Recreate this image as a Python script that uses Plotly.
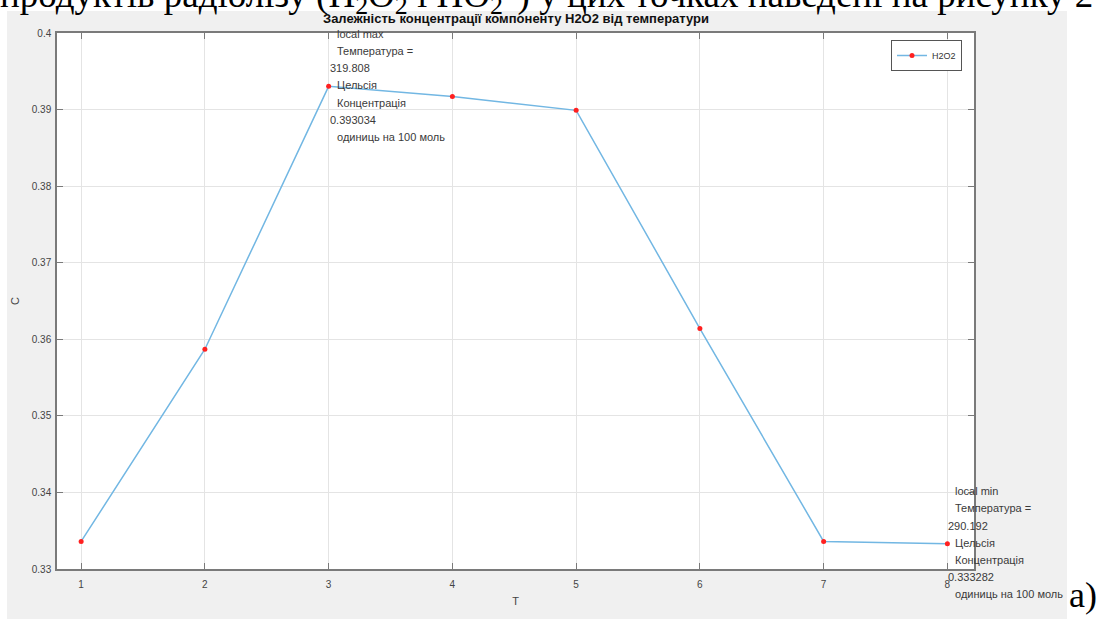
import plotly.graph_objects as go

# ---- data ----
T = [1, 2, 3, 4, 5, 6, 7, 8]
C = [0.3336, 0.3587, 0.393034, 0.3917, 0.3899, 0.3614, 0.3336, 0.333282]
x_ticks = [1, 2, 3, 4, 5, 6, 7, 8]
y_ticks = [0.33, 0.34, 0.35, 0.36, 0.37, 0.38, 0.39, 0.4]
y_ticklabels = ["0.33", "0.34", "0.35", "0.36", "0.37", "0.38", "0.39", "0.4"]
series_name = "H2O2"
title = "Залежність концентрації компоненту H2O2 від температури"
max_lines = [" local max", " Температура =", "319.808", " Цельсія", " Концентрація",
             "0.393034", " одиниць на 100 моль"]
min_lines = [" local min", " Температура =", "290.192", " Цельсія", " Концентрація",
             "0.333282", " одиниць на 100 моль"]
max_idx = 2
min_idx = 7
top_text = ("продуктів радіолізу (H<sub>2</sub>O<sub>2</sub> і HO<sub>2</sub>"
            "<sup>−</sup>) у цих точках наведені на рисунку 2")
side_label = "а)"

# ---- layout geometry ----
W, H = 1097, 619
ML, MR, MT, MB = 57, 123, 33, 50
PW, PH = W - ML - MR, H - MT - MB


def px_x(px):
    return (px - ML) / PW


def px_y(py):
    return (H - MB - py) / PH


fig = go.Figure()
fig.add_trace(go.Scatter(
    x=T, y=C, mode="lines+markers", name=series_name,
    line=dict(color="#72b7e3", width=1.5),
    marker=dict(color="#ff2020", size=5, symbol="circle"),
))

shapes = [
    dict(type="rect", xref="paper", yref="paper", layer="below",
         x0=px_x(7), x1=px_x(1067), y0=px_y(619), y1=px_y(11),
         fillcolor="#f0f0f0", line=dict(width=0)),
    dict(type="rect", xref="paper", yref="paper", layer="below",
         x0=0, x1=1, y0=0, y1=1, fillcolor="white", line=dict(width=0)),
]

font_small = dict(family="Liberation Sans, Arial", size=11, color="#3a3a3a")
annotations = []
spacing = 17.2
for lines, idx in ((max_lines, max_idx), (min_lines, min_idx)):
    for i, s in enumerate(lines):
        lead = s.startswith(" ")
        annotations.append(dict(
            x=T[idx], y=C[idx], xref="x", yref="y",
            text=s.strip(), showarrow=False, xanchor="left", yanchor="middle",
            xshift=6 if lead else -1, yshift=(3 - i) * spacing + 1,
            font=font_small,
        ))

annotations.append(dict(
    x=px_x(-2), y=px_y(22), xref="paper", yref="paper", text=top_text,
    showarrow=False, xanchor="left", yanchor="bottom",
    font=dict(family="Liberation Serif, Times New Roman", size=37, color="black"),
))
annotations.append(dict(
    x=px_x(1099), y=px_y(595), xref="paper", yref="paper", text=side_label,
    showarrow=False, xanchor="right", yanchor="middle",
    font=dict(family="Liberation Serif, Times New Roman", size=36, color="black"),
))
annotations.append(dict(
    x=0.5, y=px_y(19), xref="paper", yref="paper", text="<b>" + title + "</b>",
    showarrow=False, xanchor="center", yanchor="middle",
    font=dict(family="Liberation Sans, Arial", size=13, color="#111111"),
))

axis_common = dict(
    showline=True, linecolor="#7a7a7a", linewidth=1.5, mirror="ticks",
    ticks="inside", ticklen=6, tickcolor="#7a7a7a", tickwidth=1,
    showgrid=True, gridcolor="#e4e4e4", gridwidth=1, zeroline=False,
    automargin=False,
    tickfont=dict(family="Liberation Sans, Arial", size=10, color="#444444"),
)

fig.update_layout(
    width=W, height=H,
    margin=dict(l=ML, r=MR, t=MT, b=MB, pad=0),
    paper_bgcolor="white", plot_bgcolor="rgba(0,0,0,0)",
    shapes=shapes, annotations=annotations,
    showlegend=True,
    legend=dict(x=px_x(962), y=px_y(40), xanchor="right", yanchor="top",
                bgcolor="white", bordercolor="#555555", borderwidth=1,
                font=dict(family="Liberation Sans, Arial", size=9, color="#333333"),
                itemwidth=30, tracegroupgap=0),
    xaxis=dict(range=[0.805, 8.215], tickvals=x_ticks,
               ticktext=[str(v) for v in x_ticks], ticklabelstandoff=5,
               title=dict(text="T", standoff=9,
                          font=dict(family="Liberation Sans, Arial", size=11, color="#444444")),
               **axis_common),
    yaxis=dict(range=[0.33, 0.4], tickvals=y_ticks, ticktext=y_ticklabels,
               ticklabelstandoff=2,
               title=dict(text="C", standoff=10,
                          font=dict(family="Liberation Sans, Arial", size=11, color="#444444")),
               **axis_common),
)

fig.write_html("out.html", config={"displayModeBar": False},
               post_script="document.body.style.margin='0';")
